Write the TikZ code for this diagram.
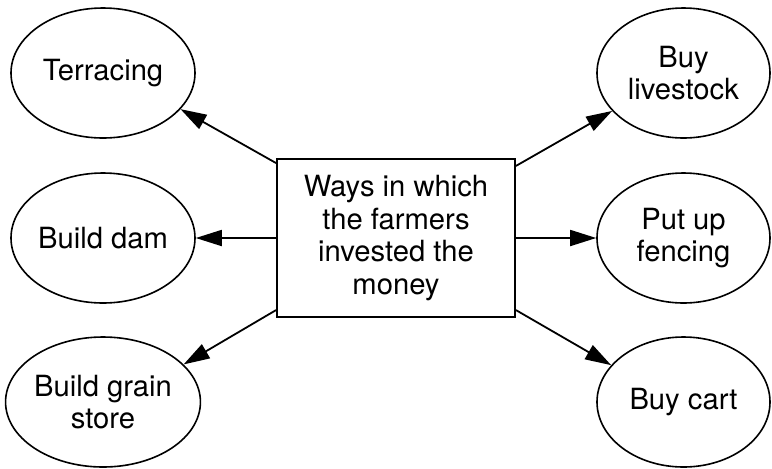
\documentclass[tikz,border=0pt]{standalone}
\usepackage{fontspec}
\setmainfont{TeX Gyre Heros}
\usetikzlibrary{shapes.geometric,arrows.meta}
\begin{document}
\begin{tikzpicture}[x=0.5pt,y=-0.5pt,
  oval/.style={draw, ellipse, line width=0.8pt, inner sep=0pt, align=center,
    minimum width=92pt, minimum height=65pt, font=\fontsize{14.6}{16.4}\selectfont},
  way/.style={draw, line width=0.9pt, -{Triangle[length=13pt,width=8pt]}}]
\useasboundingbox (0,0) rectangle (772,468);
\node[draw, line width=0.9pt, minimum width=119pt, minimum height=79pt, align=center,
  font=\fontsize{14.6}{16.4}\selectfont] (ways) at (396,238)
  {Ways in which\\the farmers\\invested the\\money};

\node[oval] (terr) at (103,73) {Terracing};
\node[oval] (dam) at (103,238) {Build dam};
\node[oval] (grain) at (103,402) {Build grain\\store};
\node[oval, minimum width=86.5pt] (stock) at (683.5,73) {Buy\\livestock};
\node[oval, minimum width=86.5pt] (fence) at (683.5,238) {Put up\\fencing};
\node[oval, minimum width=86.5pt] (cart) at (683.5,402) {Buy cart};

\path[way] (ways.148) -- (terr.-25);
\path[way] (ways.west) -- (dam.east);
\path[way] (ways.211) -- (grain.25);
\path[way] (ways.31) -- (stock.208);
\path[way] (ways.east) -- (fence.west);
\path[way] (ways.-31) -- (cart.153);
\end{tikzpicture}
\end{document}
